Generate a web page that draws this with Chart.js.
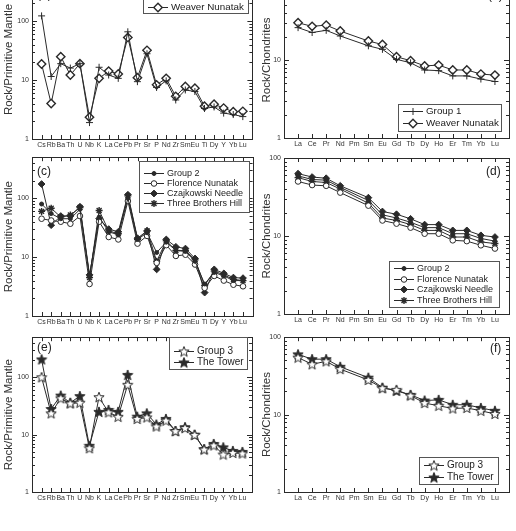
<!DOCTYPE html>
<html>
<head>
<meta charset="utf-8">
<script src="https://cdn.jsdelivr.net/npm/chart.js@4.4.1/dist/chart.umd.min.js"></script>
<style>
  html, body { margin: 0; padding: 0; background: #fff; }
  #wrap { position: relative; width: 516px; height: 531px; overflow: hidden; }
  #wrap canvas { position: absolute; }
</style>
</head>
<body>
<div id="wrap">
  <canvas id="panelA" width="258" height="180" style="left:0;top:-30px"></canvas>
  <canvas id="panelB" width="258" height="180" style="left:258px;top:-30px"></canvas>
  <canvas id="panelC" width="258" height="180" style="left:0;top:150px"></canvas>
  <canvas id="panelD" width="258" height="180" style="left:258px;top:150px"></canvas>
  <canvas id="panelE" width="258" height="201" style="left:0;top:330px"></canvas>
  <canvas id="panelF" width="258" height="201" style="left:258px;top:330px"></canvas>
</div>
<script>
// element order on the axes
const spiderElements = ["Cs", "Rb", "Ba", "Th", "U", "Nb", "K", "La", "Ce", "Pb", "Pr", "Sr", "P", "Nd", "Zr", "Sm", "Eu", "Ti", "Dy", "Y", "Yb", "Lu"];
const reeElements = ["La", "Ce", "Pr", "Nd", "Pm", "Sm", "Eu", "Gd", "Tb", "Dy", "Ho", "Er", "Tm", "Yb", "Lu"];
const yLabels = [1, 10, 100];

// (a) primitive mantle normalised
const group1Spider = [123, 11.5, 19, 16, 19, 1.9, 16.5, 12.2, 10.7, 66, 9.4, 28, 7.5, 9.7, 4.6, 6.8, 6.4, 3.3, 3.5, 2.75, 2.6, 2.4];
const weaverSpider = [18.8, 4.0, 25, 12.2, 19, 2.35, 10.7, 14.2, 12.7, 53, 11, 32, 8.3, 10.7, 5.3, 7.8, 7.3, 3.6, 3.9, 3.35, 2.9, 2.95];
// (b) chondrite normalised
const group1Ree = [26, 22.5, 24, 20.3, null, 15.2, 13.7, 10.2, 9.2, 7.45, 7.3, 6.25, 6.25, 5.7, 5.3];
const weaverRee = [30, 27, 28, 23.5, null, 17.5, 15.8, 11, 9.8, 8.4, 8.6, 7.45, 7.45, 6.6, 6.4];

// (c)
const group2Spider = [80, 55, 45, 45, 65, 4.8, 48, 27, 24, 100, 20, 26, 12, 18, 13, 12.5, 8.5, 3.5, 5.5, 4.8, 4.0, 4.0];
const florenceSpider = [45, 42, 40, 37, 50, 3.5, 40, 22, 20, 90, 17, 23, 8, 16, 10.5, 11, 7.5, 3.0, 4.8, 4.0, 3.4, 3.2];
const czajkowskiSpider = [175, 35, 50, 50, 72, 5, 45, 30, 27, 115, 21, 28, 6.2, 20, 15, 14, 9.5, 2.5, 6.2, 5.3, 4.5, 4.4];
const threeBrothersSpider = [60, 68, 48, 52, 70, 4.5, 62, 28, 25, 110, 20, 28, 8.5, 19, 13, 13, 9, 3.3, 5.8, 5.0, 4.2, 4.0];
// (d)
const group2Ree = [59, 53, 52, 42, null, 28.5, 18.7, 17, 15, 12.8, 12.8, 10.7, 10.7, 9.3, 8.6];
const florenceRee = [50, 45, 44, 36, null, 24.5, 15.8, 14.4, 12.8, 10.7, 10.7, 8.8, 8.6, 7.6, 6.9];
const czajkowskiRee = [63, 57, 55, 44, null, 31, 20.6, 19, 16.6, 14, 14, 11.8, 11.8, 10.2, 9.7];
const threeBrothersRee = [56, 50, 48.5, 40, null, 26.3, 17, 15.8, 14, 11.8, 11.8, 9.7, 9.7, 8.4, 8.0];

// (e)
const group3Spider = [100, 23.5, 43, 35, 36, 5.8, 45, 24.5, 20.5, 74, 18.8, 20, 13.9, 17.6, 11.5, 13, 9.9, 5.5, 6.5, 4.5, 4.8, 4.7];
const towerSpider = [205, 28, 48, 36, 47, 6.4, 25, 27, 25, 110, 20.6, 23.5, 15, 18.8, 11.6, 13.5, 10, 5.6, 6.9, 6.0, 5.2, 5.0];
// (f)
const group3Ree = [54.5, 44.7, 48.8, 38.7, null, 28, 21.9, 20.9, 17.6, 14.1, 13.0, 12.0, 12.2, 11.2, 10.2];
const towerRee = [60, 52, 52, 41.5, null, 30, 22.3, 20.2, 18, 15.2, 15.5, 13.4, 13.4, 12.2, 11.2];

const INK = "#2a2a2a";
const FONT = "'Liberation Sans', Arial, sans-serif";

function makeStar(filled) {
    const c = document.createElement("canvas");
    c.width = 12;
    c.height = 12;
    const g = c.getContext("2d");
    g.beginPath();
    for (let i = 0; i < 10; i++) {
        const r = i % 2 ? 2.3 : 5.4;
        const a = -Math.PI / 2 + i * Math.PI / 5;
        const px = 6 + r * Math.cos(a), py = 6.4 + r * Math.sin(a);
        if (i === 0) g.moveTo(px, py); else g.lineTo(px, py);
    }
    g.closePath();
    g.fillStyle = filled ? INK : "#fff";
    g.fill();
    g.lineWidth = 1;
    g.strokeStyle = INK;
    g.stroke();
    return c;
}
const openStar = makeStar(false);
const filledStar = makeStar(true);

const markers = {
    group1: { pointStyle: "cross", pointRadius: 3.5, pointBorderWidth: 1, pointBackgroundColor: INK },
    weaver: { pointStyle: "rectRot", pointRadius: 4.2, pointBorderWidth: 1.4, pointBackgroundColor: "#fff" },
    group2: { pointStyle: "circle", pointRadius: 2, pointBorderWidth: 1, pointBackgroundColor: INK },
    florence: { pointStyle: "circle", pointRadius: 2.8, pointBorderWidth: 1, pointBackgroundColor: "#fff" },
    czajkowski: { pointStyle: "rectRot", pointRadius: 3.4, pointBorderWidth: 1, pointBackgroundColor: INK },
    threeBrothers: { pointStyle: "star", pointRadius: 3.5, pointBorderWidth: 1.4, pointBackgroundColor: INK },
    group3: { pointStyle: openStar, pointRadius: 5 },
    tower: { pointStyle: filledStar, pointRadius: 5 },
};

function series(label, values, marker) {
    return Object.assign({
        label: label,
        data: values.map((v, i) => ({ x: i, y: v })),
        borderColor: INK,
        borderWidth: 1,
        pointBorderColor: INK,
        spanGaps: true,
        tension: 0,
    }, marker);
}

// inward tick marks and frame
const framePlugin = {
    id: "frame",
    afterDatasetsDraw(chart, args, opts) {
        const ctx = chart.ctx;
        const a = chart.chartArea;
        const ys = chart.scales.y;
        const xs = chart.scales.x;
        ctx.save();
        ctx.strokeStyle = INK;
        ctx.lineWidth = 1;
        ctx.strokeRect(Math.round(a.left) + 0.5, Math.round(a.top) + 0.5, Math.round(a.right - a.left), Math.round(a.bottom - a.top));
        ctx.beginPath();
        for (let e = 0; Math.pow(10, e) <= ys.max; e++) {
            for (let m = 1; m <= 9; m++) {
                const v = m * Math.pow(10, e);
                if (v > ys.max) break;
                const y = Math.round(ys.getPixelForValue(v)) + 0.5;
                const len = m === 1 ? 5 : 3;
                ctx.moveTo(a.left, y); ctx.lineTo(a.left + len, y);
                ctx.moveTo(a.right, y); ctx.lineTo(a.right - len, y);
            }
        }
        for (let i = 0; i < opts.count; i++) {
            const x = Math.round(xs.getPixelForValue(i)) + 0.5;
            ctx.moveTo(x, a.top); ctx.lineTo(x, a.top + 4);
            ctx.moveTo(x, a.bottom); ctx.lineTo(x, a.bottom - 4);
        }
        ctx.stroke();
        ctx.restore();
    },
};

// boxed legend inside the plot and the panel letter
const boxLegendPlugin = {
    id: "boxLegend",
    afterDraw(chart, args, opts) {
        const ctx = chart.ctx;
        ctx.save();
        const [x1, y1, x2, y2] = opts.box;
        ctx.fillStyle = "#fff";
        ctx.fillRect(x1, y1, x2 - x1, y2 - y1);
        ctx.strokeStyle = "#555";
        ctx.lineWidth = 1;
        ctx.strokeRect(x1 + 0.5, y1 + 0.5, x2 - x1, y2 - y1);
        ctx.font = opts.fontSize + "px " + FONT;
        ctx.textBaseline = "middle";
        chart.data.datasets.forEach((ds, i) => {
            const y = opts.rows[i] + 0.5;
            ctx.strokeStyle = INK;
            ctx.lineWidth = 1;
            ctx.beginPath();
            ctx.moveTo(x1 + 5, y);
            ctx.lineTo(x1 + 25, y);
            ctx.stroke();
            ctx.fillStyle = ds.pointBackgroundColor || INK;
            ctx.strokeStyle = INK;
            ctx.lineWidth = ds.pointBorderWidth || 1;
            Chart.helpers.drawPoint(ctx, {
                pointStyle: ds.pointStyle,
                radius: ds.pointRadius || 3,
                borderWidth: ds.pointBorderWidth || 1,
                rotation: 0,
            }, x1 + 15, y);
            ctx.fillStyle = "#222";
            ctx.fillText(ds.label, x1 + 28, y);
        });
        ctx.font = "12px " + FONT;
        ctx.fillStyle = "#222";
        ctx.fillText(opts.letter, opts.letterPos[0], opts.letterPos[1]);
        ctx.restore();
    },
};

function makePanel(canvasId, p) {
    const el = document.getElementById(canvasId);
    return new Chart(el.getContext("2d"), {
        type: "line",
        data: { datasets: p.datasets },
        options: {
            responsive: false,
            animation: false,
            devicePixelRatio: 1,
            layout: { padding: { top: p.padTop, bottom: p.padBottom, right: p.padRight, left: 0 } },
            plugins: {
                legend: { display: false },
                tooltip: { enabled: false },
                frame: { count: p.names.length },
                boxLegend: p.legend,
            },
            scales: {
                x: {
                    type: "linear",
                    min: -1,
                    max: p.names.length,
                    grid: { display: false, drawTicks: false },
                    border: { display: false },
                    ticks: {
                        stepSize: 1,
                        autoSkip: false,
                        maxRotation: 0,
                        padding: 2,
                        color: "#333",
                        font: { family: FONT, size: 7 },
                        callback: (v) => p.names[v] || "",
                    },
                    afterFit(scale) { scale.height = 11; },
                },
                y: {
                    type: "logarithmic",
                    min: 1,
                    max: p.yMax,
                    grid: { display: false, drawTicks: false },
                    border: { display: false },
                    ticks: {
                        autoSkip: false,
                        padding: 3,
                        color: "#333",
                        font: { family: FONT, size: 7 },
                        callback: (v) => yLabels.includes(v) ? String(v) : "",
                    },
                    title: {
                        display: true,
                        text: p.yTitle,
                        color: "#333",
                        font: { family: FONT, size: 11.5 },
                        padding: { top: 2, bottom: 0 },
                    },
                    afterFit(scale) { scale.width = p.yWidth; },
                },
            },
        },
        plugins: [framePlugin, boxLegendPlugin],
    });
}

makePanel("panelA", {
    names: spiderElements, yMax: 500, yTitle: "Rock/Primitive Mantle", yWidth: 32,
    padTop: 10, padBottom: 0, padRight: 3,
    datasets: [series("Group 1", group1Spider, markers.group1), series("Weaver Nunatak", weaverSpider, markers.weaver)],
    legend: { box: [143, 17, 248, 43], rows: [25, 37], fontSize: 9.8, letter: "(a)", letterPos: [37, 25] },
});
makePanel("panelB", {
    names: reeElements, yMax: 100, yTitle: "Rock/Chondrites", yWidth: 26,
    padTop: 12, padBottom: 1, padRight: 7,
    datasets: [series("Group 1", group1Ree, markers.group1), series("Weaver Nunatak", weaverRee, markers.weaver)],
    legend: { box: [140, 134, 243, 161], rows: [141, 153], fontSize: 9.8, letter: "(b)", letterPos: [230, 26] },
});
makePanel("panelC", {
    names: spiderElements, yMax: 500, yTitle: "Rock/Primitive Mantle", yWidth: 32,
    padTop: 7, padBottom: 3, padRight: 3,
    datasets: [
        series("Group 2", group2Spider, markers.group2),
        series("Florence Nunatak", florenceSpider, markers.florence),
        series("Czajkowski Needle", czajkowskiSpider, markers.czajkowski),
        series("Three Brothers Hill", threeBrothersSpider, markers.threeBrothers),
    ],
    legend: { box: [139, 11, 249, 62], rows: [23, 33, 43, 53], fontSize: 9, letter: "(c)", letterPos: [37, 22] },
});
makePanel("panelD", {
    names: reeElements, yMax: 100, yTitle: "Rock/Chondrites", yWidth: 26,
    padTop: 8, padBottom: 5, padRight: 7,
    datasets: [
        series("Group 2", group2Ree, markers.group2),
        series("Florence Nunatak", florenceRee, markers.florence),
        series("Czajkowski Needle", czajkowskiRee, markers.czajkowski),
        series("Three Brothers Hill", threeBrothersRee, markers.threeBrothers),
    ],
    legend: { box: [131, 111, 241, 157], rows: [118, 129, 139, 150], fontSize: 9, letter: "(d)", letterPos: [228, 22] },
});
makePanel("panelE", {
    names: spiderElements, yMax: 500, yTitle: "Rock/Primitive Mantle", yWidth: 32,
    padTop: 2, padBottom: 28, padRight: 3,
    datasets: [series("Group 3", group3Spider, markers.group3), series("The Tower", towerSpider, markers.tower)],
    legend: { box: [169, 7, 247, 39], rows: [21, 32], fontSize: 10, letter: "(e)", letterPos: [37, 18] },
});
makePanel("panelF", {
    names: reeElements, yMax: 100, yTitle: "Rock/Chondrites", yWidth: 26,
    padTop: 3, padBottom: 28, padRight: 7,
    datasets: [series("Group 3", group3Ree, markers.group3), series("The Tower", towerRee, markers.tower)],
    legend: { box: [161, 127, 240, 154], rows: [135, 147], fontSize: 10, letter: "(f)", letterPos: [232, 19] },
});
</script>
</body>
</html>
